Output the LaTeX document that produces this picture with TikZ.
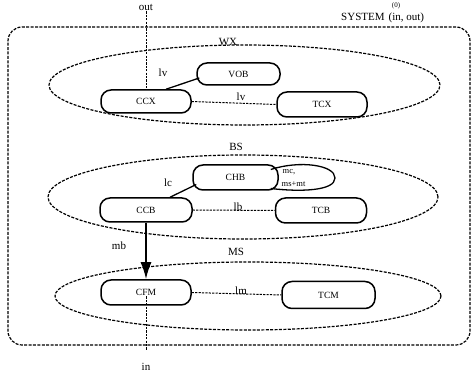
\documentclass[tikz,border=0pt]{standalone}
\usepackage{fontspec}
\setmainfont{Liberation Serif}
\usetikzlibrary{arrows.meta,shapes.geometric}
\begin{document}
\begin{tikzpicture}[x=1pt,y=-1pt,
  proc/.style={draw, line width=1.5pt, rounded corners=10pt, inner sep=0pt,
    font=\fontsize{9.5}{10}\selectfont},
  grp/.style={draw, dash pattern=on 3pt off 1.4pt, line width=1.2pt},
  lnk/.style={dash pattern=on 2.2pt off 1.2pt, line width=1pt},
  lab/.style={inner sep=1pt, font=\fontsize{11}{12}\selectfont},
  slab/.style={inner sep=0.5pt, font=\fontsize{8.5}{9}\selectfont}]
\useasboundingbox (0,0) rectangle (475,379);
% system boundary
\node[grp, rounded corners=14pt, minimum width=462pt, minimum height=318pt, inner sep=0pt] (sys) at (239,186) {};
% group ellipses
\node[grp, ellipse, minimum width=391pt, minimum height=80pt, inner sep=0pt] (wx) at (244.5,85) {};
\node[grp, ellipse, minimum width=390pt, minimum height=84pt, inner sep=0pt] (bs) at (243,197) {};
\node[grp, ellipse, minimum width=386pt, minimum height=68pt, inner sep=0pt] (ms) at (248,296) {};
% group labels
\node[lab] (wxl) at (228,42) {WX};
\node[lab] (bsl) at (236,147) {BS};
\node[lab] (msl) at (236,252) {MS};
% processes
\node[proc, minimum width=83pt, minimum height=22pt] (vob) at (238.5,74) {VOB};
\node[proc, minimum width=90pt, minimum height=23pt] (ccx) at (146,101.5) {CCX};
\node[proc, minimum width=90pt, minimum height=25pt] (tcx) at (322,104.5) {TCX};
\node[proc, minimum width=85pt, minimum height=25pt] (chb) at (235.5,177.5) {CHB};
\node[proc, minimum width=92pt, minimum height=24pt] (ccb) at (146,210) {CCB};
\node[proc, minimum width=91pt, minimum height=25pt] (tcb) at (321,210.5) {TCB};
\node[proc, minimum width=90pt, minimum height=25pt] (cfm) at (146,292.5) {CFM};
\node[proc, minimum width=93pt, minimum height=27pt] (tcm) at (328.5,295) {TCM};
% external labels
\node[lab] (outl) at (146,7) {out};
\node[lab] (inl) at (146,367) {in};
\node[lab, anchor=west] (sysl) at (340,18) {SYSTEM\hspace{4pt}(in, out)};
\node[inner sep=0pt, font=\fontsize{7}{8}\selectfont] (sysidx) at (396,6) {(0)};
\coordinate (inend) at (146,350);
% connectors
\draw[lnk] (outl.south) -- (ccx.north);
\draw[lnk] ([yshift=-4pt]cfm.center) -- (inend);
\draw[line width=1.3pt] ([xshift=20pt]ccx.north) -- ([xshift=3pt,yshift=-4pt]vob.west);
\node[lab] (lv1) at (163,73) {lv};
\draw[lnk] (ccx.east) -- (tcx.west);
\node[lab] (lv2) at (241,97) {lv};
\draw[line width=1.3pt] ([xshift=4pt,yshift=-7pt]chb.west) -- ([xshift=24pt]ccb.north);
\node[lab] (lcl) at (168,183) {lc};
\draw[line width=1.3pt] ([xshift=-8pt,yshift=8pt]chb.east) .. controls (300,160) and (335,165) .. (335,178) .. controls (335,191) and (300,192) .. ([xshift=-8pt,yshift=-11pt]chb.east);
\node[slab, anchor=west] (mcl) at (282,172) {mc,};
\node[slab, anchor=west] (msl2) at (281,184) {ms+mt};
\draw[lnk] (ccb.east) -- (tcb.west);
\node[lab] (lbl) at (238,207) {lb};
\draw[line width=1.8pt, -{Latex[length=17pt,width=11pt]}] (ccb.south) -- (cfm.north);
\node[lab] (mbl) at (119,246) {mb};
\draw[lnk] (cfm.east) -- (tcm.west);
\node[lab] (lml) at (241,291) {lm};
\end{tikzpicture}
\end{document}
